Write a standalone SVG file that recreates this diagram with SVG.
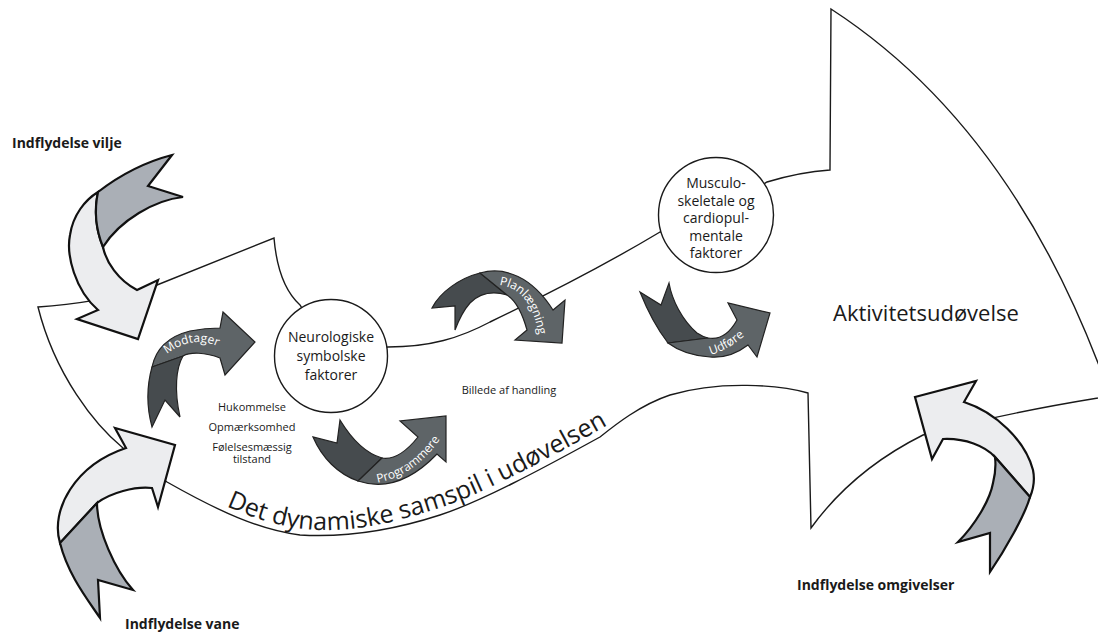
<svg xmlns="http://www.w3.org/2000/svg" width="1098" height="634" viewBox="0 0 1098 634">
<style>
.ol{fill:#fff;stroke:#1a1a1a;stroke-width:1.4;stroke-linejoin:miter}
.circ{fill:#fff;stroke:#1a1a1a;stroke-width:1.4}
.lh{fill:#ECEDEF;stroke:#111;stroke-width:2.2;stroke-linejoin:miter}
.lt{fill:#AAAFB6;stroke:#111;stroke-width:2.2;stroke-linejoin:miter}
.dh{fill:#5E6467;stroke:#222;stroke-width:1.2;stroke-linejoin:miter}
.dt{fill:#464B4E;stroke:#222;stroke-width:1.2;stroke-linejoin:miter}
text{font-family:"Open Sans","Noto Sans",sans-serif;fill:#1a1a1a}
.b{font-weight:700;font-size:14px}
.s{font-size:11px;text-anchor:middle}
.c{font-size:14px;text-anchor:middle}
.al{font-size:12px;fill:#fff}
.big{font-size:25px}
</style>
<defs>
<path id="tpDet" d="M 226,506 C 262,522 292,530 327,530 C 367,530 402,520 442,507 C 482,494 547,460 620,418"/>
<path id="tpMod" d="M 158,362 Q 192,328 228,352"/>
<path id="tpPlan" d="M 486,285 C 515,281 537,300 540,348"/>
<path id="tpUdf" d="M 698,357 Q 726,355 754,327"/>
<path id="tpProg" d="M 362,484 C 395,484 426,466 448,426"/>
</defs>
<rect width="1098" height="634" fill="#fff"/>

<g id="connectors">
<path class="ol" d="M 38,307 C 70,305 120,298 157,285 L 274,238 Q 278,285 300,305 L 331,356 L 388,347 C 430,347 460,338 490,322 C 540,298 600,268 660,232 L 715,215 L 767,182 Q 800,172 830,170 L 831,9 Q 1005,122 1098,363 L 1110,392 L 1098,398 Q 1000,414 923,435 Q 853,470 811,528 L 808,393 C 780,385 720,380 670,395 C 640,405 615,425 600,437 C 540,470 480,502 440,515 C 400,528 350,538 300,535 C 260,530 220,512 167,482 L 123,448 C 95,425 55,375 38,307 Z"/>
</g>

<g id="node-neuro">
<circle class="circ" cx="331" cy="356" r="56.5"/>
<text class="c" x="331" y="342">Neurologiske</text>
<text class="c" x="331" y="361">symbolske</text>
<text class="c" x="331" y="380">faktorer</text>
</g>

<g id="node-musculo">
<circle class="circ" cx="716" cy="215" r="57.5"/>
<text class="c" x="716" y="188">Musculo-</text>
<text class="c" x="716" y="205.5">skeletale og</text>
<text class="c" x="716" y="223">cardiopul-</text>
<text class="c" x="716" y="240.5">mentale</text>
<text class="c" x="716" y="258">faktorer</text>
</g>

<g id="node-aktivitet">
<text x="833" y="321" style="font-size:22px">Aktivitetsudøvelse</text>
</g>

<g id="node-vilje">
<path class="lh" d="M 98,192 Q 92,220 103,247 C 106,262 118,280 137,290 L 158,280 L 138,339 L 77,319 L 98,310 C 75,290 66,255 70,235 C 73,215 85,200 98,192 Z"/>
<path class="lt" d="M 98,192 C 120,175 145,162 172,155 L 148,186 L 183,197 C 155,200 120,220 103,247 Q 92,220 98,192 Z"/>
<text class="b" x="12" y="148">Indflydelse vilje</text>
</g>

<g id="node-vane">
<path class="lh" d="M 126,448 L 115,428 L 175,445 L 158,507 L 152,488 C 135,486 110,493 97,503 L 60,543 C 50,510 75,465 126,448 Z"/>
<path class="lt" d="M 60,543 L 97,503 C 97,530 115,570 133,590 L 98,580 L 100,618 C 88,600 68,575 60,543 Z"/>
<text class="b" x="125" y="629">Indflydelse vane</text>
</g>

<g id="node-omgivelser">
<path class="lh" d="M 915,397 L 976,381 L 964,402 C 995,412 1025,440 1033,470 C 1035,480 1033,490 1030,497 L 995,457 C 985,446 965,438 943,439 L 932,459 Z"/>
<path class="lt" d="M 995,457 L 1030,497 C 1025,515 1005,550 990,572 L 990,533 L 958,542 C 975,525 990,500 993,483 C 995,475 996,465 995,457 Z"/>
<text class="b" x="797" y="590">Indflydelse omgivelser</text>
</g>

<g id="node-modtager">
<path class="dh" d="M 152,367 C 156,348 170,336 190,331 C 200,329 210,328 220,328 L 223,312 L 255,342 L 225,375 L 220,358 C 205,352 190,352 183,356 Z"/>
<path class="dt" d="M 152,367 L 183,356 C 176,368 174,390 180,417 L 165,400 L 152,427 C 146,405 147,385 152,367 Z"/>
<text class="al"><textPath href="#tpMod" startOffset="50%" text-anchor="middle">Modtager</textPath></text>
</g>

<g id="node-programmere">
<path class="dt" d="M 313,437 C 322,458 338,474 358,481 L 382,458 C 368,454 354,443 340,420 L 337,443 Z"/>
<path class="dh" d="M 358,481 C 388,491 414,478 437,454 L 446,462 L 446,416 L 400,421 L 418,437 C 406,452 394,460 382,458 Z"/>
<text class="al"><textPath href="#tpProg" startOffset="50%" text-anchor="middle">Programmere</textPath></text>
</g>

<g id="node-planlaegning">
<path class="dt" d="M 432,308 C 440,292 460,278 480,273 L 507,295 C 490,290 478,295 470,303 C 462,312 458,322 455,330 L 455,306 Z"/>
<path class="dh" d="M 480,273 C 505,266 532,277 553,310 L 565,300 L 562,343 L 515,340 L 527,330 C 522,312 515,300 507,295 Z"/>
<text class="al"><textPath href="#tpPlan" startOffset="50%" text-anchor="middle">Planlægning</textPath></text>
</g>

<g id="node-udfore">
<path class="dt" d="M 640,292 L 661,305 L 669,283 C 672,300 682,320 697,333 C 700,335 704,337 708,338 L 668,343 C 658,330 648,312 640,292 Z"/>
<path class="dh" d="M 668,343 L 708,338 C 718,340 728,336 737,320 L 728,303 L 770,313 L 757,357 L 748,345 C 735,355 722,358 710,357 C 695,356 680,352 668,343 Z"/>
<text class="al"><textPath href="#tpUdf" startOffset="50%" text-anchor="middle">Udføre</textPath></text>
</g>

<g id="labels">
<text class="s" x="252" y="411">Hukommelse</text>
<text class="s" x="252" y="431">Opmærksomhed</text>
<text class="s" x="252" y="450.5">Følelsesmæssig<tspan x="252" dy="12.5">tilstand</tspan></text>
<text class="s" x="509" y="394">Billede af handling</text>
<text class="big"><textPath href="#tpDet">Det dynamiske samspil i udøvelsen</textPath></text>
</g>
</svg>
